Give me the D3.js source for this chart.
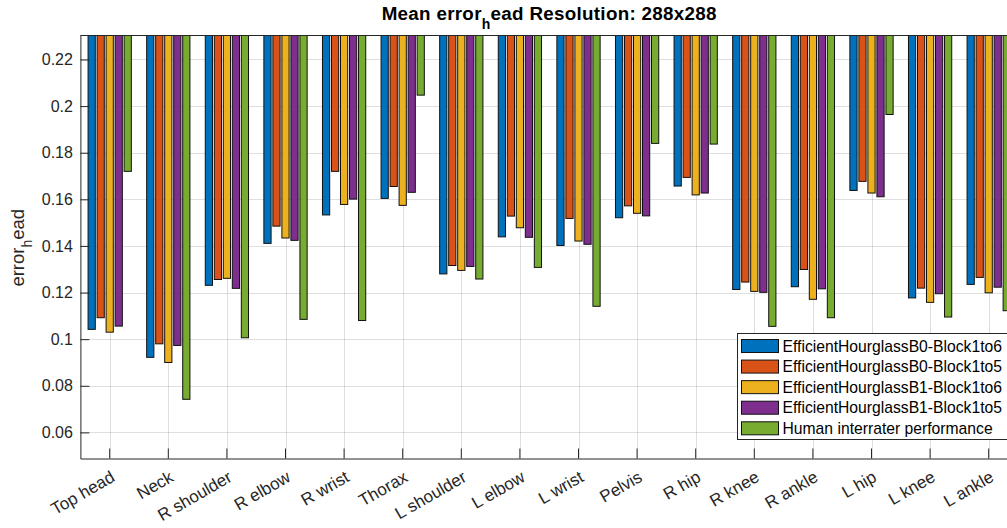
<!DOCTYPE html>
<html>
<head>
<meta charset="utf-8">
<script src="https://cdn.jsdelivr.net/npm/d3@7"></script>
<style>
  html, body { margin: 0; padding: 0; background: #fff; overflow: hidden; }
  svg { display: block; font-family: Arial, "Liberation Sans", Helvetica, sans-serif; }
</style>
</head>
<body>
<svg id="chart" width="1007" height="528"></svg>
<script>
// Joints evaluated
const categories = ["Top head", "Neck", "R shoulder", "R elbow", "R wrist", "Thorax",
  "L shoulder", "L elbow", "L wrist", "Pelvis", "R hip", "R knee", "R ankle",
  "L hip", "L knee", "L ankle"];

// Series names (legend order)
const seriesNames = [
  "EfficientHourglassB0-Block1to6",
  "EfficientHourglassB0-Block1to5",
  "EfficientHourglassB1-Block1to6",
  "EfficientHourglassB1-Block1to5",
  "Human interrater performance"
];

// Mean head-normalised error per joint
const b0Block1to6 = [0.1042, 0.0922, 0.1231, 0.1411, 0.1533, 0.1604, 0.1280, 0.1439,
  0.1402, 0.1521, 0.1657, 0.1213, 0.1225, 0.1638, 0.1177, 0.1235];
const b0Block1to5 = [0.1092, 0.0980, 0.1256, 0.1485, 0.1720, 0.1655, 0.1316, 0.1528,
  0.1518, 0.1572, 0.1694, 0.1245, 0.1299, 0.1677, 0.1219, 0.1265];
const b1Block1to6 = [0.1030, 0.0900, 0.1261, 0.1434, 0.1578, 0.1574, 0.1295, 0.1478,
  0.1421, 0.1540, 0.1619, 0.1205, 0.1171, 0.1627, 0.1158, 0.1199];
const b1Block1to5 = [0.1056, 0.0973, 0.1218, 0.1424, 0.1601, 0.1630, 0.1312, 0.1437,
  0.1407, 0.1529, 0.1627, 0.1201, 0.1216, 0.1611, 0.1195, 0.1223];
const humanInterrater = [0.1720, 0.0742, 0.1006, 0.1085, 0.1080, 0.2047, 0.1258, 0.1308,
  0.1141, 0.1840, 0.1837, 0.1055, 0.1092, 0.1964, 0.1095, 0.1122];

const yTicks = [0.06, 0.08, 0.1, 0.12, 0.14, 0.16, 0.18, 0.2, 0.22];
const yTickLabels = ["0.06", "0.08", "0.1", "0.12", "0.14", "0.16", "0.18", "0.2", "0.22"];

const colors = ["#0072BD", "#D95319", "#EDB120", "#7E2F8E", "#77AC30"];
const seriesValues = [b0Block1to6, b0Block1to5, b1Block1to6, b1Block1to5, humanInterrater];

// Axes box
const plot = { left: 80.4, right: 1018, top: 35, bottom: 458.5 };
const yMin = 0.0488, yMax = 0.2305;

const svg = d3.select("#chart");

const x = d3.scaleBand().domain(categories).range([plot.left, plot.right]).padding(0);
const groupWidth = x.bandwidth() * 0.769;
const xInner = d3.scaleBand().domain(d3.range(seriesNames.length))
  .range([-groupWidth / 2, groupWidth / 2]).paddingInner(0.2).paddingOuter(0.1);
const y = d3.scaleLinear().domain([yMin, yMax]).range([plot.bottom, plot.top]);

const axisGray = "#262626";
const gridColor = "rgba(38,38,38,0.15)";

svg.append("defs").append("clipPath").attr("id", "plotClip")
  .append("rect")
  .attr("x", plot.left).attr("y", plot.top)
  .attr("width", plot.right - plot.left).attr("height", plot.bottom - plot.top);

// Grid
const grid = svg.append("g");
grid.selectAll("line.gy").data(yTicks).join("line")
  .attr("x1", plot.left).attr("x2", plot.right)
  .attr("y1", d => Math.round(y(d)) + 0.5).attr("y2", d => Math.round(y(d)) + 0.5)
  .attr("stroke", gridColor).attr("stroke-width", 1);
grid.selectAll("line.gx").data(categories).join("line")
  .attr("x1", d => Math.round(x(d) + x.bandwidth() / 2) + 0.5)
  .attr("x2", d => Math.round(x(d) + x.bandwidth() / 2) + 0.5)
  .attr("y1", plot.top).attr("y2", plot.bottom)
  .attr("stroke", gridColor).attr("stroke-width", 1);

// Bars hang from the top of the axes down to each value
const bars = svg.append("g").attr("clip-path", "url(#plotClip)");
const flat = [];
categories.forEach((c, i) => {
  seriesValues.forEach((vals, s) => flat.push({ cat: c, s, v: vals[i] }));
});
bars.selectAll("rect").data(flat).join("rect")
  .attr("x", d => x(d.cat) + x.bandwidth() / 2 + xInner(d.s))
  .attr("width", xInner.bandwidth())
  .attr("y", plot.top - 5)
  .attr("height", d => y(d.v) - plot.top + 5)
  .attr("fill", d => colors[d.s])
  .attr("stroke", "#111")
  .attr("stroke-width", 1);

// Axes
const yAxis = d3.axisLeft(y).tickValues(yTicks)
  .tickFormat((d, i) => yTickLabels[i]).tickSizeInner(-9).tickSizeOuter(0).tickPadding(7.5);
const gy = svg.append("g").attr("transform", `translate(${plot.left},0)`).call(yAxis);
gy.select(".domain").attr("stroke", axisGray).attr("stroke-width", 1);
gy.selectAll(".tick line").attr("stroke", axisGray);
gy.selectAll(".tick text").attr("fill", axisGray).attr("font-size", 16)
  .attr("font-family", 'Arial, "Liberation Sans", Helvetica, sans-serif');

const xAxis = d3.axisBottom(x).tickSizeInner(-10).tickSizeOuter(0).tickFormat("");
const gx = svg.append("g").attr("transform", `translate(0,${plot.bottom})`).call(xAxis);
gx.select(".domain").attr("stroke", axisGray).attr("stroke-width", 1);
gx.selectAll(".tick line").attr("stroke", axisGray);

// Rotated category labels
svg.append("g").selectAll("text").data(categories).join("text")
  .attr("transform", d => `translate(${x(d) + x.bandwidth() / 2 + 4},${plot.bottom + 18}) rotate(-30)`)
  .attr("text-anchor", "end")
  .attr("dominant-baseline", "middle")
  .attr("font-size", 17)
  .attr("fill", axisGray)
  .text(d => d);

// Top edge of the box
svg.append("line")
  .attr("x1", plot.left).attr("x2", plot.right)
  .attr("y1", plot.top + 0.5).attr("y2", plot.top + 0.5)
  .attr("stroke", axisGray).attr("stroke-width", 1);

// Title with subscript
const title = svg.append("text")
  .attr("x", (plot.left + plot.right) / 2).attr("y", 19.5)
  .attr("text-anchor", "middle")
  .attr("font-size", 18.8).attr("font-weight", "bold").attr("fill", "#000")
  .attr("letter-spacing", 0.3);
title.append("tspan").text("Mean error");
title.append("tspan").attr("dy", 9).attr("font-size", 14).text("h");
title.append("tspan").attr("dy", -9).text("ead Resolution: 288x288");

// Y label with subscript
const ylab = svg.append("text")
  .attr("transform", `translate(24,${(plot.top + plot.bottom) / 2 + 1}) rotate(-90)`)
  .attr("text-anchor", "middle")
  .attr("font-size", 18.5).attr("fill", axisGray);
ylab.append("tspan").text("error");
ylab.append("tspan").attr("dy", 8).attr("font-size", 14).text("h");
ylab.append("tspan").attr("dy", -8).text("ead");

// Legend
const legend = svg.append("g");
const lg = { x: 737.5, y: 333.5, w: 290, h: 106 };
legend.append("rect")
  .attr("x", lg.x).attr("y", lg.y).attr("width", lg.w).attr("height", lg.h)
  .attr("fill", "#fff").attr("stroke", axisGray).attr("stroke-width", 1);
const rowY = d3.scaleLinear().domain([0, 4]).range([346, 428.3]);
const items = legend.selectAll("g.item").data(seriesNames).join("g");
items.append("rect")
  .attr("x", 741.5).attr("y", (d, i) => rowY(i) - 6.5)
  .attr("width", 37).attr("height", 13)
  .attr("fill", (d, i) => colors[i]).attr("stroke", "#111").attr("stroke-width", 1);
items.append("text")
  .attr("x", 782.5).attr("y", (d, i) => rowY(i))
  .attr("dominant-baseline", "central")
  .attr("font-size", 15.7).attr("fill", "#000")
  .text(d => d);
</script>
</body>
</html>
